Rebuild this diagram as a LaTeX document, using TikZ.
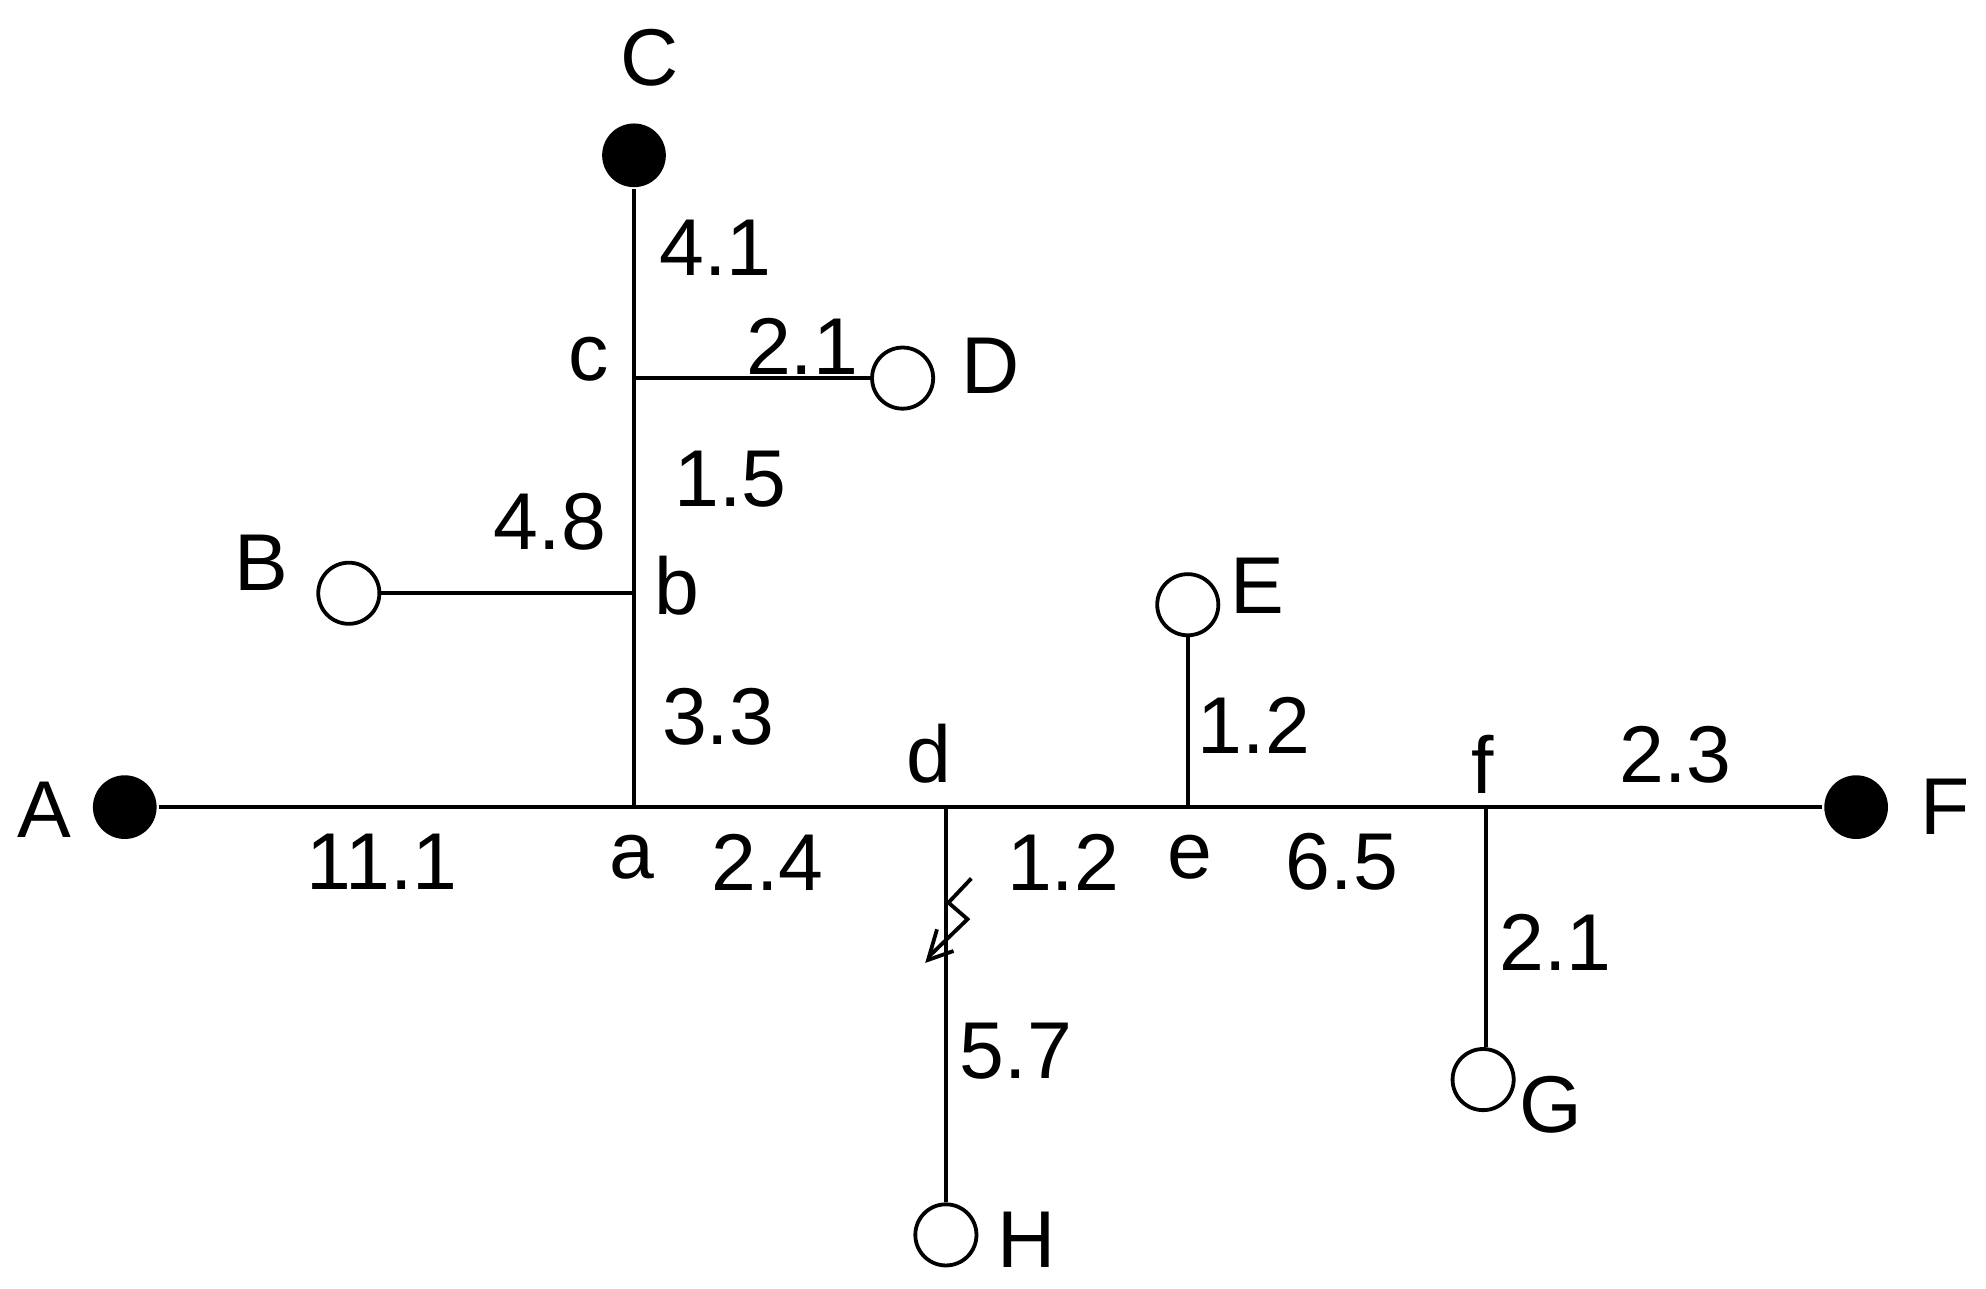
\documentclass[tikz,border=0pt]{standalone}
\usepackage{fontspec}
\setmainfont{Liberation Sans}
\begin{document}
\begin{tikzpicture}[x=0.01cm,y=-0.01cm,line width=0.85pt,
  full/.style={circle,fill=black,minimum size=0.5cm,inner sep=0},
  open/.style={circle,draw=black,fill=white,line width=0.85pt,minimum size=0.48cm,inner sep=0},
  lab/.style={font=\fontsize{18}{20}\selectfont,inner sep=0}]
\useasboundingbox (0,0) rectangle (1560,1012);
\coordinate (a) at (498,634); \coordinate (b) at (498,466); \coordinate (c) at (498,297);
\coordinate (d) at (743,634); \coordinate (e) at (933,634); \coordinate (f) at (1167,634);
\node[full] (A) at (98,634) {};
\node[full] (C) at (498,122) {};
\node[full] (F) at (1458,634) {};
\node[open] (D) at (709,297) {};
\node[open] (B) at (274,466) {};
\node[open] (E) at (933,475) {};
\node[open] (G) at (1165,848) {};
\node[open] (H) at (743,970) {};
\draw (A) -- (F);
\draw (a) -- (C);
\draw (c) -- (D);
\draw (b) -- (B);
\draw (e) -- (E);
\draw (f) -- (f|-G.north);
\draw (d) -- (H);
\draw (763,690) -- (745,709) -- (760,722) -- (730,751);
\draw (736,730) -- (729,754) -- (749,747);
\foreach \t/\x/\y in {C/510/45,4.1/562/195,c/462/282,2.1/630/272,D/778/287,1.5/574/376,4.8/432/410,B/205/442,b/532/460,3.3/564/563,E/988/460,1.2/985/570,d/730/592,f/1165/600,2.3/1316/593,F/1528/634,A/35/636,11.1/300/677,a/496/673,2.4/603/677,1.2/835/677,e/935/673,6.5/1054/677,2.1/1222/740,5.7/798/826,G/1218/868,H/806/974}
  \node[lab] (l-\x-\y) at (\x,\y) {\t};
\end{tikzpicture}
\end{document}
